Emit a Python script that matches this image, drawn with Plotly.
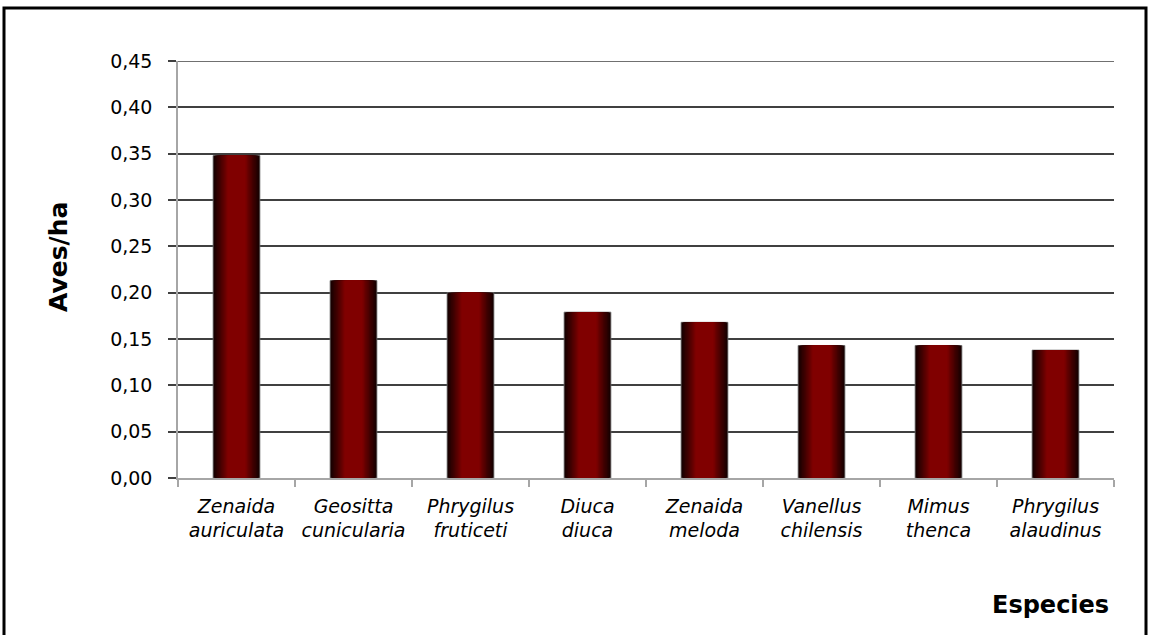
import plotly.graph_objects as go

species = ["Zenaida<br>auriculata", "Geositta<br>cunicularia", "Phrygilus<br>fruticeti",
           "Diuca<br>diuca", "Zenaida<br>meloda", "Vanellus<br>chilensis",
           "Mimus<br>thenca", "Phrygilus<br>alaudinus"]
aves_ha = [0.348, 0.213, 0.200, 0.179, 0.168, 0.143, 0.143, 0.138]
y_ticks = [0.00, 0.05, 0.10, 0.15, 0.20, 0.25, 0.30, 0.35, 0.40, 0.45]
y_ticktext = ["0,00", "0,05", "0,10", "0,15", "0,20", "0,25", "0,30", "0,35", "0,40", "0,45"]

FONT = "DejaVu Sans, Century Gothic, sans-serif"

# plot area in pixels
W, H = 1149, 635
L, R, T, B = 178, 35, 61, 157
pw, ph = W - L - R, H - T - B

def px_x(px):
    return (px - L) / pw

def px_y(py):
    return (H - B - py) / ph

dark = (22, 0, 0)
red = (128, 0, 0)

def color_at(t):
    # t: 0 at center, 1 at edge
    if t <= 0.4:
        f = 0.0
    else:
        f = (t - 0.4) / 0.6
    f = f ** 0.9
    c = [round(red[i] + (dark[i] - red[i]) * f) for i in range(3)]
    return f"rgb({c[0]},{c[1]},{c[2]})"

fig = go.Figure()
BAR_W = 0.4
N = 18
for k in range(N):
    t = 1 - k / N
    w = BAR_W * t
    fig.add_trace(go.Bar(
        x=species, y=aves_ha, width=w,
        marker=dict(color=color_at(t),
                    line=dict(color="rgba(110,110,110,0.8)" if k == 0 else color_at(t),
                              width=1 if k == 0 else 0)),
        showlegend=False, hoverinfo="skip",
    ))

fig.update_layout(
    width=W, height=H,
    margin=dict(l=L, r=R, t=T, b=B),
    barmode="overlay",
    paper_bgcolor="white", plot_bgcolor="white",
    font=dict(family=FONT, color="black"),
    xaxis=dict(
        type="category", tickson="boundaries",
        ticks="outside", ticklen=7, tickcolor="#a6a6a6", tickwidth=1.5,
        showline=True, linecolor="#a6a6a6", linewidth=1.5,
        showgrid=False,
        tickfont=dict(family=FONT, size=19, style="italic", color="black"),
        ticklabelstandoff=10,
        range=[-0.5, 7.5],
    ),
    yaxis=dict(
        range=[0, 0.45], tickvals=y_ticks, ticktext=y_ticktext,
        ticks="outside", ticklen=8, tickcolor="#404040", tickwidth=1.5,
        showgrid=True, gridcolor="#404040", gridwidth=1.5,
        showline=True, linecolor="#a6a6a6", linewidth=1.5,
        zeroline=False,
        tickfont=dict(family=FONT, size=19, color="black"),
        ticklabelstandoff=12,
    ),
    annotations=[
        dict(text="<b>Aves/ha</b>", textangle=-90, x=px_x(58), y=px_y(257),
             xref="paper", yref="paper", showarrow=False,
             font=dict(family=FONT, size=25, color="black"),
             xanchor="center", yanchor="middle"),
        dict(text="<b>Especies</b>", x=px_x(1111), y=px_y(605),
             xref="paper", yref="paper", showarrow=False,
             font=dict(family=FONT, size=24, color="black"),
             xanchor="right", yanchor="middle"),
    ],
    shapes=[
        dict(type="rect", xref="paper", yref="paper",
             x0=px_x(4), x1=px_x(1146), y0=px_y(660), y1=px_y(8),
             line=dict(color="black", width=3), layer="below"),
        dict(type="line", xref="paper", yref="y",
             x0=0, x1=1, y0=y_ticks[-1], y1=y_ticks[-1],
             line=dict(color="#404040", width=1.5), layer="below"),
    ],
)

fig.write_html("out.html")
